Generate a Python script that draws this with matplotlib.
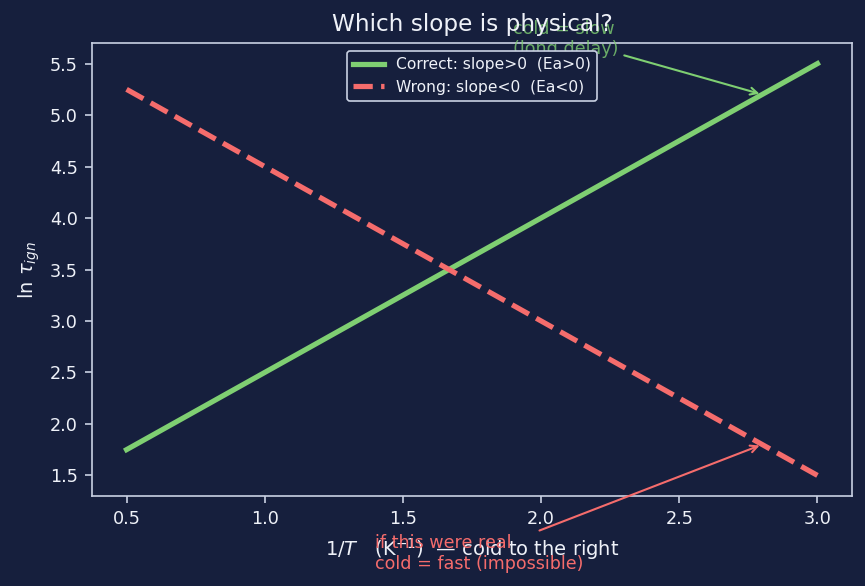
import matplotlib
matplotlib.use('Agg')
import matplotlib.pyplot as plt
import numpy as np

# data
x_inv_T = [0.5, 3.0]
ln_tau_correct = [1.75, 5.5]
ln_tau_wrong = [5.25, 1.5]

bg = '#161f3d'
fg = '#eef1f8'
spine_c = '#c9d1e3'
green = '#7fcf72'
red = '#f56c6c'

fig = plt.figure(figsize=(8.65, 5.86), dpi=100, facecolor=bg)
ax = fig.add_axes([92/865, 1 - 496/586, 760/865, 453/586])
ax.set_facecolor(bg)

ax.plot(x_inv_T, ln_tau_correct, '-', color=green, linewidth=3.75,
        label='Correct: slope>0  (Ea>0)')
ax.plot(x_inv_T, ln_tau_wrong, '--', color=red, linewidth=3.75,
        label='Wrong: slope<0  (Ea<0)')

ax.annotate('cold = slow\n(long delay)', xy=(2.8, 5.2), xytext=(1.9, 5.59),
            color=green, fontsize=12.6, alpha=0.8,
            arrowprops=dict(arrowstyle='->', color=green, lw=1.5))
ax.annotate('if this were real\ncold = fast (impossible)', xy=(2.8, 1.8),
            xytext=(1.4, 0.59), color=red, fontsize=12.6,
            arrowprops=dict(arrowstyle='->', color=red, lw=1.5),
            annotation_clip=False)

for s in ax.spines.values():
    s.set_color(spine_c)
    s.set_linewidth(1.2)
ax.tick_params(colors=spine_c, labelcolor=fg, labelsize=12.7,
               length=5.25, width=1.2, pad=5)
ax.set_yticks([1.5, 2.0, 2.5, 3.0, 3.5, 4.0, 4.5, 5.0, 5.5])

ax.set_title('Which slope is physical?', color=fg, fontsize=16.7, pad=9,
             zorder=10)
ax.set_xlabel(r'$1/T$   (K$^{-1}$)  — cold to the right', color=fg,
              fontsize=14, labelpad=6)
ax.set_ylabel(r'$\ln\,\tau_{ign}$', color=fg, fontsize=14, labelpad=6)

leg = ax.legend(loc='upper center', fontsize=11.2, facecolor=bg,
                edgecolor=spine_c, labelcolor=fg, framealpha=1)
leg.get_frame().set_linewidth(1.2)

fig.savefig('out.png', dpi=100, facecolor=bg)
